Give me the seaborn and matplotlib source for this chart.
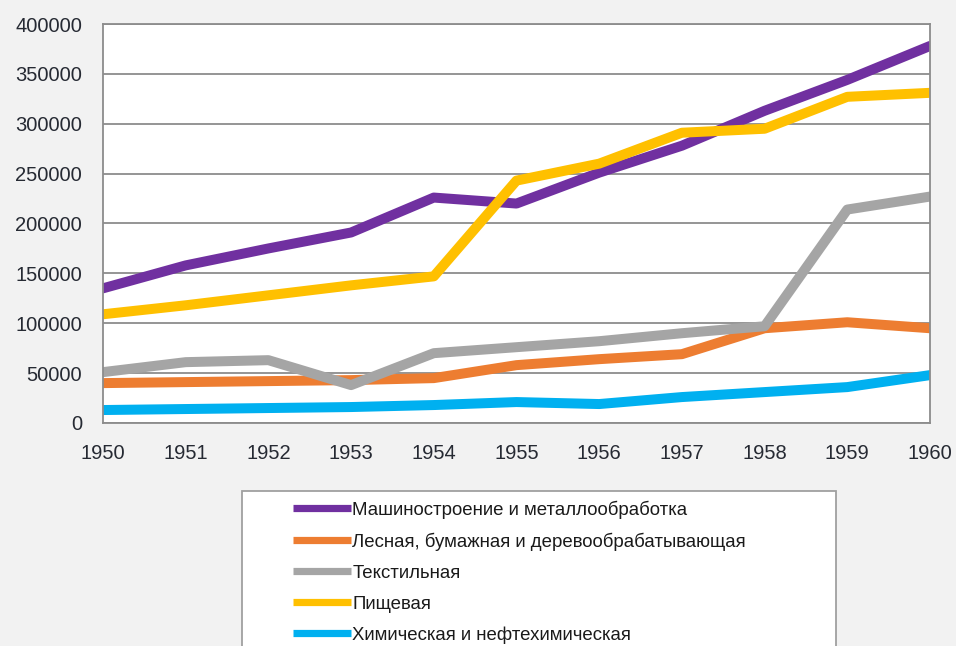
import matplotlib
matplotlib.use('Agg')
import matplotlib.pyplot as plt
from matplotlib.lines import Line2D
from matplotlib.patches import Rectangle
import numpy as np
import pandas as pd
import seaborn as sns

years = [1950, 1951, 1952, 1953, 1954, 1955, 1956, 1957, 1958, 1959, 1960]

machinery = [135000, 158000, 175000, 191000, 226000, 220000, 251000, 278000, 313000, 344000, 378000]
forestry = [40000, 41000, 42000, 43000, 45000, 58000, 64000, 69000, 95000, 101000, 95000]
textile = [51000, 61000, 63000, 38000, 70000, 76000, 82000, 90000, 97000, 214000, 227000]
food = [109000, 118000, 128000, 138000, 147000, 243000, 260000, 291000, 295000, 327000, 331000]
chemical = [13000, 14000, 15000, 16000, 18000, 21000, 19000, 26000, 31000, 36000, 48000]

names = ['Машиностроение и металлообработка',
         'Лесная, бумажная и деревообрабатывающая',
         'Текстильная',
         'Пищевая',
         'Химическая и нефтехимическая']
colors = ['#7030A0', '#ED7D31', '#A5A5A5', '#FFC000', '#00B0F0']

sns.set_theme(style='white')
plt.rcParams['font.family'] = ['Liberation Sans', 'DejaVu Sans']

rows = []
for name, vals in zip(names, [machinery, forestry, textile, food, chemical]):
    for y, v in zip(years, vals):
        rows.append({'year': y, 'value': v, 'sector': name})
df = pd.DataFrame(rows)

fig = plt.figure(figsize=(9.56, 6.46), dpi=100, facecolor='#F2F2F2')
ax = fig.add_axes([103 / 956, 1 - 423 / 646, 827 / 956, 399 / 646])
ax.set_facecolor('white')

sns.lineplot(data=df, x='year', y='value', hue='sector', hue_order=names,
             palette=colors, linewidth=7.2, sort=False, legend=False, ax=ax)

grid_c = '#8C8C8C'
ax.set_xlim(1950, 1960)
ax.set_ylim(0, 400000)
ax.set_xticks(years)
ax.set_yticks(np.arange(0, 400001, 50000))
ax.yaxis.grid(True, color=grid_c, linewidth=1.3)
ax.set_axisbelow(True)
for s in ax.spines.values():
    s.set_color(grid_c)
    s.set_linewidth(1.3)
ax.tick_params(axis='both', which='both', direction='out', length=5, width=1.3,
               color=grid_c, labelsize=14.5, labelcolor='#262A33')
ax.tick_params(axis='y', pad=10)
ax.tick_params(axis='x', pad=10)
ax.set_xlabel('')
ax.set_ylabel('')

# legend frame (runs off the bottom edge like the original)
fig.patches.append(Rectangle((242 / 956, -0.05), 594 / 956, 1 - 491 / 646 + 0.05,
                             transform=fig.transFigure, facecolor='white',
                             edgecolor='#A0A0A0', linewidth=1.3, zorder=0))

handles = [Line2D([0], [0], color=c, linewidth=5.2, solid_capstyle='butt') for c in colors]
fig.legend(handles, names, loc='upper left', bbox_to_anchor=(287 / 956, 1 - 495 / 646),
           frameon=False, fontsize=13.4, handlelength=3.15, handletextpad=0.05,
           labelspacing=0.74, borderpad=0.3, borderaxespad=0, labelcolor='#1A1A1A')

fig.savefig('out.png', dpi=100, facecolor=fig.get_facecolor())
